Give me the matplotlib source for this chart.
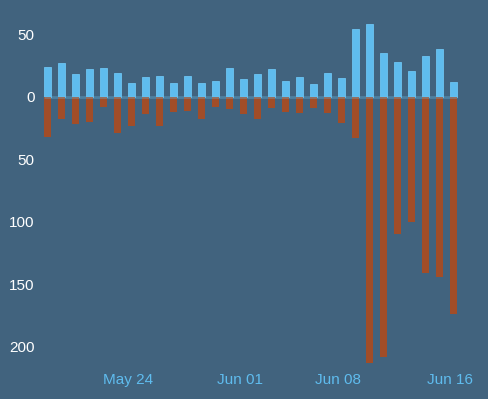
import matplotlib.pyplot as plt
import matplotlib.dates as mdates
import numpy as np
import pandas as pd

plt.rcParams['font.family'] = ['Liberation Sans', 'DejaVu Sans']

dates = pd.date_range('2024-05-18', '2024-06-16', freq='D')
up = [24, 27, 18, 22, 23, 19, 11, 16, 17, 11, 17, 11, 13, 23, 14,
      18, 22, 13, 16, 10, 19, 15, 54, 58, 35, 28, 21, 33, 38, 12]
down = [32, 18, 22, 20, 8, 29, 23, 14, 23, 12, 11, 18, 8, 10, 14,
        18, 9, 12, 13, 9, 13, 21, 33, 213, 208, 110, 100, 141, 144, 174]
yticks = [50, 0, -50, -100, -150, -200]
xticks = ['2024-05-24', '2024-06-01', '2024-06-08', '2024-06-16']

bg = '#41637e'
blue = '#5fbcee'
rust = '#a14d28'

fig = plt.figure(figsize=(4.89, 3.99), dpi=100, facecolor=bg)
ax = fig.add_axes([40/489, 34/399, 440/489, 360/399], facecolor=bg)

x = mdates.date2num(dates)
ax.bar(x, up, width=0.5, align='edge', color=blue, edgecolor='#6cc4f2', linewidth=0.6)
ax.bar(x, -np.array(down), width=0.5, align='edge', color=rust, linewidth=0)
ax.hlines(0, x[0], x[-1] + 0.5, color='#6cc4f2', alpha=0.3, linewidth=2)

may24 = mdates.date2num(pd.Timestamp('2024-05-24'))
ax.set_xlim(may24 - 88/14, may24 + 352/14)
ax.set_ylim(-214.6, 73.4)

ax.set_yticks(yticks)
ax.set_yticklabels([str(abs(v)) for v in yticks], color='white', fontsize=11)
ax.set_xticks(mdates.date2num(pd.to_datetime(xticks)))
ax.set_xticklabels([pd.Timestamp(t).strftime('%b %d') for t in xticks],
                   color='#5fbcee', fontsize=11)
ax.tick_params(axis='y', length=0, pad=4)
ax.tick_params(axis='x', length=0, pad=6)
for s in ax.spines.values():
    s.set_visible(False)

plt.savefig('out.png', dpi=100, facecolor=bg)
